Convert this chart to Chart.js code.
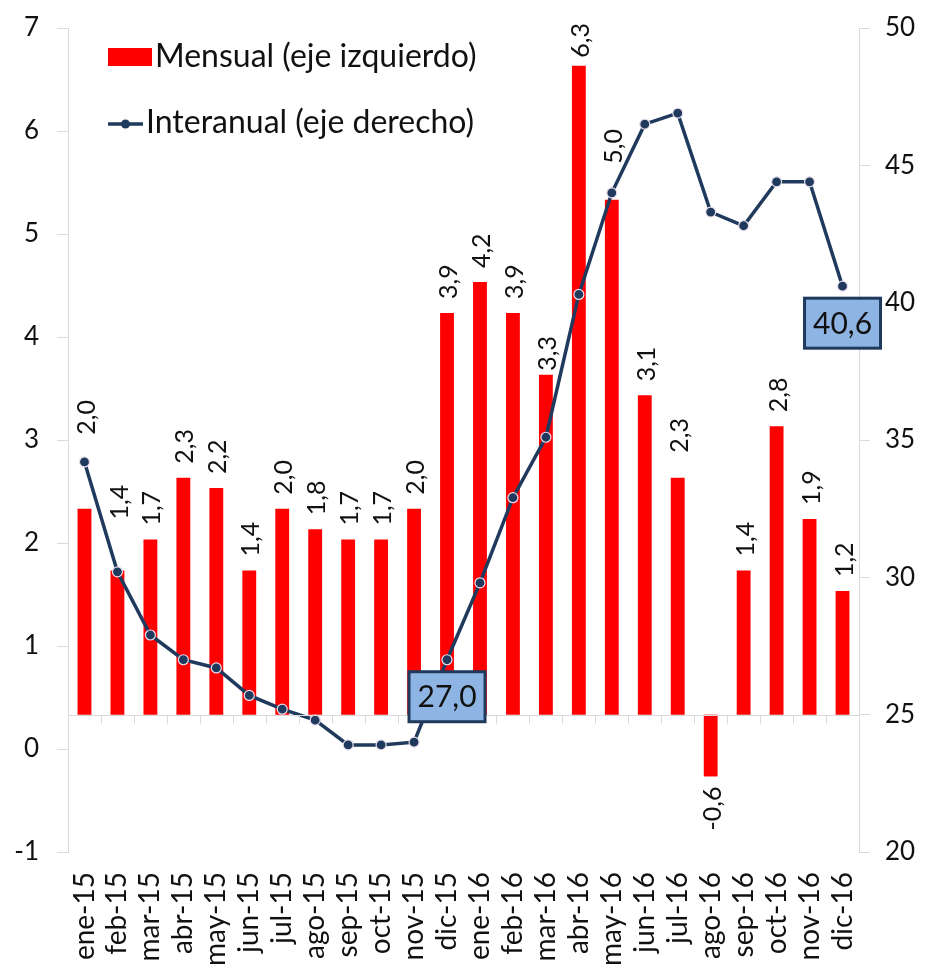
<!DOCTYPE html>
<html>
<head>
<meta charset="utf-8">
<script src="https://cdn.jsdelivr.net/npm/chart.js@4.4.1/dist/chart.umd.min.js"></script>
<style>
  html, body { margin: 0; padding: 0; background: #fff; }
  #wrap { width: 932px; height: 980px; }
</style>
</head>
<body>
<div id="wrap"><canvas id="chart" width="932" height="980"></canvas></div>
<script>
const meses = [
  "ene-15", "feb-15", "mar-15", "abr-15", "may-15", "jun-15",
  "jul-15", "ago-15", "sep-15", "oct-15", "nov-15", "dic-15",
  "ene-16", "feb-16", "mar-16", "abr-16", "may-16", "jun-16",
  "jul-16", "ago-16", "sep-16", "oct-16", "nov-16", "dic-16",
];
// variacion mensual, eje izquierdo
const mensual = [
  2.0, 1.4, 1.7, 2.3, 2.2, 1.4, 2.0, 1.8, 1.7, 1.7, 2.0, 3.9,
  4.2, 3.9, 3.3, 6.3, 5.0, 3.1, 2.3, -0.6, 1.4, 2.8, 1.9, 1.2,
];
// variacion interanual, eje derecho
const interanual = [
  34.2, 30.2, 27.9, 27.0, 26.7, 25.7, 25.2, 24.8, 23.9, 23.9, 24.0, 27.0,
  29.8, 32.9, 35.1, 40.3, 44.0, 46.5, 46.9, 43.3, 42.8, 44.4, 44.4, 40.6,
];
const ticksIzq = [-1, 0, 1, 2, 3, 4, 5, 6, 7];
const ticksDer = [20, 25, 30, 35, 40, 45, 50];
const destacados = [11, 23]; // puntos con recuadro

const ROJO = "#ff0000";
const AZUL = "#1f3a5c";
const GRIS = "#d9d9d9";
const FUENTE = "Lato, 'Open Sans', sans-serif";

const coma = (v) => v.toFixed(1).replace(".", ",");

// las barras arrancan en el cruce del eje (25 en el eje derecho)
const izqMin = ticksIzq[0], izqMax = ticksIzq[ticksIzq.length - 1];
const derMin = ticksDer[0], derMax = ticksDer[ticksDer.length - 1];
const cruce = izqMin + (25 - derMin) / (derMax - derMin) * (izqMax - izqMin);

// ajustes manuales de las etiquetas de barra (px extra de separacion)
const ajusteEtiqueta = { 0: 60, 1: 37, 14: -10, 15: -6, 16: 22, 18: 11 };

const etiquetasBarras = {
  id: "etiquetasBarras",
  afterDatasetsDraw(chart) {
    const ctx = chart.ctx;
    const meta = chart.getDatasetMeta(0);
    ctx.save();
    ctx.font = "25px " + FUENTE;
    ctx.fillStyle = "#111";
    ctx.textBaseline = "middle";
    meta.data.forEach((bar, i) => {
      const v = mensual[i];
      const gap = 14 + (ajusteEtiqueta[i] || 0);
      ctx.save();
      if (v >= 0) {
        ctx.translate(bar.x + 2, bar.y - gap);
        ctx.textAlign = "left";
      } else {
        ctx.translate(bar.x + 2, bar.y + 10);
        ctx.textAlign = "right";
      }
      ctx.rotate(-Math.PI / 2);
      ctx.fillText(coma(v), 0, 0);
      ctx.restore();
    });
    ctx.restore();
  },
};

const extras = {
  id: "extras",
  afterDraw(chart) {
    const ctx = chart.ctx;
    const yR = chart.scales.y2;
    const area = chart.chartArea;
    ctx.save();

    // linea de categorias en 25
    const yLinea = Math.round(yR.getPixelForValue(25)) + 0.5;
    ctx.strokeStyle = GRIS;
    ctx.lineWidth = 1;
    ctx.beginPath();
    ctx.moveTo(area.left, yLinea);
    ctx.lineTo(area.right, yLinea);
    const paso = (area.right - area.left) / meses.length;
    for (let i = 1; i < meses.length; i++) {
      const px = Math.round(area.left + i * paso) + 0.5;
      ctx.moveTo(px, yLinea);
      ctx.lineTo(px, yLinea + 8);
    }
    ctx.stroke();

    // recuadros
    const meta = chart.getDatasetMeta(1);
    ctx.font = "30px " + FUENTE;
    ctx.textAlign = "center";
    ctx.textBaseline = "middle";
    destacados.forEach((i) => {
      const p = meta.data[i];
      const w = 76, h = 50;
      const bx = p.x - w / 2, by = p.y + 12;
      ctx.fillStyle = "#8eb4e3";
      ctx.fillRect(bx, by, w, h);
      ctx.strokeStyle = AZUL;
      ctx.lineWidth = 3;
      ctx.strokeRect(bx, by, w, h);
      ctx.fillStyle = "#111";
      ctx.fillText(coma(interanual[i]), p.x, by + h / 2 + 1);
    });

    // leyenda
    ctx.font = "32px " + FUENTE;
    ctx.textAlign = "left";
    ctx.fillStyle = ROJO;
    ctx.fillRect(108, 48, 44, 18);
    ctx.fillStyle = "#111";
    ctx.fillText(chart.data.datasets[0].label, 155, 57);
    ctx.strokeStyle = AZUL;
    ctx.lineWidth = 3.5;
    ctx.beginPath();
    ctx.moveTo(108, 124);
    ctx.lineTo(143, 124);
    ctx.stroke();
    ctx.fillStyle = AZUL;
    ctx.beginPath();
    ctx.arc(125.5, 124, 4.5, 0, Math.PI * 2);
    ctx.fill();
    ctx.fillStyle = "#111";
    ctx.fillText(chart.data.datasets[1].label, 146, 123);

    ctx.restore();
  },
};

// ancho fijo de los ejes y sin relleno extra por las etiquetas
const fijarEjeY = (ancho) => (s) => {
  s.width = ancho;
  s.paddingTop = 0;
  s.paddingBottom = 0;
};

const ctx = document.getElementById("chart").getContext("2d");
const chart = new Chart(ctx, {
  type: "bar",
  data: {
    labels: meses,
    datasets: [
      {
        label: "Mensual (eje izquierdo)",
        data: mensual,
        backgroundColor: ROJO,
        borderWidth: 0,
        yAxisID: "yBar",
        barPercentage: 0.42,
        categoryPercentage: 1,
        order: 2,
      },
      {
        type: "line",
        label: "Interanual (eje derecho)",
        data: interanual,
        borderColor: AZUL,
        backgroundColor: AZUL,
        borderWidth: 3.5,
        pointRadius: 5,
        pointBackgroundColor: AZUL,
        pointBorderColor: "#e9dfee",
        pointBorderWidth: 1.2,
        tension: 0,
        yAxisID: "y2",
        order: 1,
      },
    ],
  },
  options: {
    responsive: false,
    animation: false,
    layout: { padding: { top: 28, left: 0, right: 0, bottom: 0 } },
    plugins: {
      legend: { display: false },
      tooltip: { enabled: false },
    },
    scales: {
      x: {
        grid: { display: false, drawTicks: false },
        border: { display: false },
        ticks: {
          minRotation: 90,
          maxRotation: 90,
          autoSkip: false,
          padding: 20,
          color: "#111",
          font: { family: FUENTE, size: 28 },
        },
        afterFit: (s) => {
          s.height = 128;
          s.paddingLeft = 0;
          s.paddingRight = 0;
        },
      },
      y: {
        position: "left",
        min: izqMin,
        max: izqMax,
        grid: { drawOnChartArea: false, color: GRIS, tickLength: 11 },
        border: { color: GRIS },
        ticks: {
          stepSize: 1,
          padding: 18,
          color: "#111",
          font: { family: FUENTE, size: 26 },
        },
        afterFit: fijarEjeY(68),
      },
      yBar: {
        display: false,
        min: izqMin - cruce,
        max: izqMax - cruce,
      },
      y2: {
        position: "right",
        min: derMin,
        max: derMax,
        grid: { drawOnChartArea: false, color: GRIS, tickLength: 11 },
        border: { color: GRIS },
        ticks: {
          stepSize: 5,
          padding: 15,
          color: "#111",
          font: { family: FUENTE, size: 26 },
        },
        afterFit: fijarEjeY(73),
      },
    },
  },
  plugins: [etiquetasBarras, extras],
});
</script>
</body>
</html>
